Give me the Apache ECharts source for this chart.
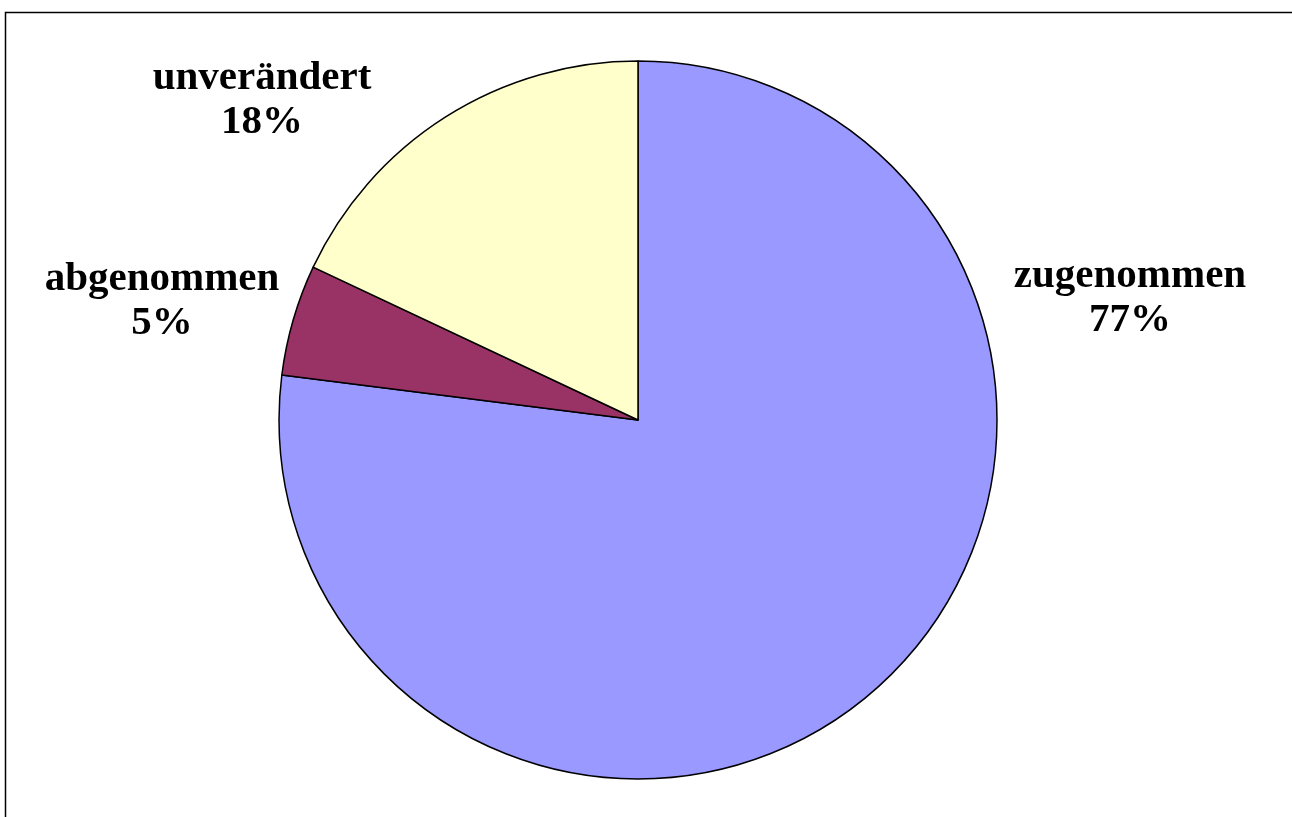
<!DOCTYPE html>
<html>
<head>
<meta charset="utf-8">
<title>Pie</title>
<script src="https://cdn.jsdelivr.net/npm/echarts@6/dist/echarts.min.js"></script>
<style>
  html, body {
    margin: 0;
    padding: 0;
    background: #fff;
  }
  #chart {
    width: 1292px;
    height: 817px;
  }
</style>
</head>
<body>
<div id="chart"></div>
<script>
// data
const categories = ["zugenommen", "abgenommen", "unverändert"];
const values = [77, 5, 18];
const colors = ["#9999ff", "#993366", "#ffffcc"];
// where Excel put each label (centre of the text block)
const labelSpots = [
  [1130, 298],
  [162, 301],
  [262, 100],
];

const chart = echarts.init(document.getElementById("chart"), null, { renderer: "canvas" });

const option = {
  animation: false,
  backgroundColor: "#fff",
  graphic: [
    {
      type: "rect",
      shape: { x: 5.5, y: 12.5, width: 1400, height: 900 },
      style: { fill: "none", stroke: "#000", lineWidth: 1.5 },
      silent: true,
    },
  ],
  series: [
    {
      type: "pie",
      center: [638, 420],
      radius: 359,
      startAngle: 90,
      clockwise: true,
      avoidLabelOverlap: false,
      itemStyle: {
        borderColor: "#000",
        borderWidth: 1.5,
      },
      emphasis: { disabled: true },
      label: {
        show: true,
        position: "outside",
        formatter: "{b}\n{d}%",
        fontFamily: "'Liberation Serif', 'Times New Roman', serif",
        fontWeight: "bold",
        fontSize: 41,
        lineHeight: 44,
        color: "#000",
        align: "center",
      },
      labelLine: { show: false },
      labelLayout: (params) => {
        const spot = labelSpots[params.dataIndex];
        return {
          x: spot[0],
          y: spot[1],
          align: "center",
          verticalAlign: "middle",
          hideOverlap: false,
        };
      },
      data: categories.map((name, i) => ({
        name: name,
        value: values[i],
        itemStyle: { color: colors[i] },
      })),
    },
  ],
};

chart.setOption(option);
</script>
</body>
</html>
